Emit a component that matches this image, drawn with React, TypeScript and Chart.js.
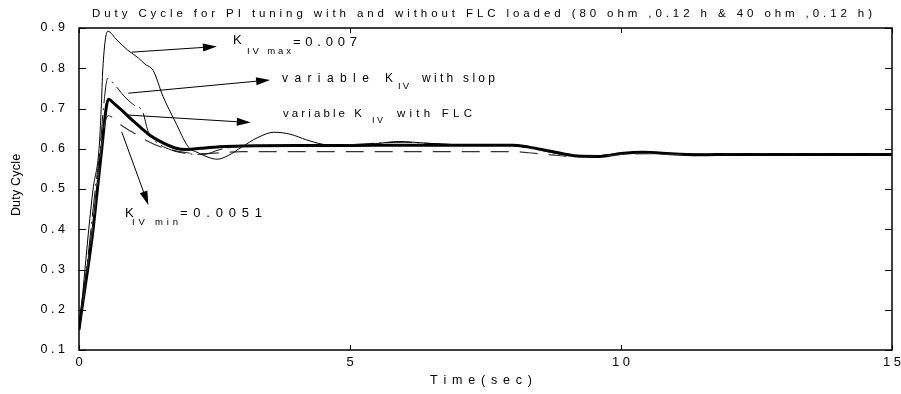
import React, { useEffect, useRef } from "react";
import { Chart, registerables } from "chart.js";

Chart.register(...registerables);

// ---- data (time in seconds, duty cycle) ----
const kmaxT = [0, 0.04, 0.11, 0.18, 0.26, 0.37, 0.41, 0.44, 0.53, 0.7, 0.9, 1.1, 1.22, 1.37, 1.55, 1.77, 2.02, 2.2, 2.4, 2.55, 2.75, 3.0, 3.3, 3.6, 3.9, 4.2, 4.5, 5.0, 5.5, 5.9, 6.4, 7.0, 8.0, 8.3, 8.7, 9.2, 9.6, 10.0, 10.4, 11.0, 12.0, 13.0, 15];
const kmaxV = [0.15, 0.2, 0.3, 0.4, 0.5, 0.6, 0.7, 0.8, 0.892, 0.87, 0.845, 0.825, 0.81, 0.794, 0.73, 0.669, 0.604, 0.59, 0.578, 0.574, 0.583, 0.604, 0.628, 0.641, 0.636, 0.622, 0.611, 0.607, 0.613, 0.618, 0.614, 0.61, 0.609, 0.605, 0.594, 0.582, 0.583, 0.589, 0.592, 0.588, 0.585, 0.586, 0.586];

const flcT = [0, 0.05, 0.16, 0.26, 0.34, 0.42, 0.5, 0.54, 0.65, 0.85, 1.0, 1.16, 1.3, 1.47, 1.77, 2.0, 2.24, 2.6, 3.0, 4.0, 5.0, 6.0, 7.0, 8.0, 8.3, 8.7, 9.2, 9.6, 10.0, 10.4, 11.0, 11.5, 12.0, 13.0, 14.0, 15];
const flcV = [0.15, 0.2, 0.3, 0.4, 0.5, 0.6, 0.7, 0.723, 0.712, 0.688, 0.669, 0.65, 0.634, 0.62, 0.602, 0.598, 0.601, 0.605, 0.607, 0.608, 0.608, 0.609, 0.609, 0.609, 0.604, 0.594, 0.582, 0.581, 0.588, 0.591, 0.587, 0.585, 0.586, 0.586, 0.586, 0.586];

const slopT = [0, 0.05, 0.14, 0.22, 0.3, 0.39, 0.45, 0.53, 0.67, 0.85, 1.0, 1.18, 1.27, 1.4, 1.7, 2.0, 2.3, 2.6, 3.0, 4.0, 5.0, 5.5, 6.0, 6.5, 7.0, 8.0, 8.3, 8.7, 9.2, 9.6, 10.0, 10.4, 11, 12, 15];
const slopV = [0.15, 0.2, 0.3, 0.4, 0.5, 0.6, 0.7, 0.775, 0.757, 0.728, 0.71, 0.69, 0.645, 0.62, 0.597, 0.588, 0.586, 0.598, 0.606, 0.607, 0.61, 0.614, 0.616, 0.613, 0.61, 0.608, 0.602, 0.591, 0.581, 0.583, 0.588, 0.591, 0.587, 0.586, 0.586];

const kminT = [0, 0.05, 0.15, 0.25, 0.33, 0.41, 0.48, 0.54, 0.65, 0.76, 0.9, 1.0, 1.25, 1.5, 1.7, 2.0, 2.3, 2.6, 3.0, 4, 5, 6, 7, 8.0, 8.3, 8.7, 9.2, 9.6, 10.0, 10.5, 11, 12, 15];
const kminV = [0.15, 0.2, 0.3, 0.4, 0.5, 0.6, 0.665, 0.682, 0.675, 0.661, 0.648, 0.64, 0.62, 0.605, 0.597, 0.59, 0.588, 0.59, 0.593, 0.593, 0.593, 0.593, 0.593, 0.593, 0.59, 0.585, 0.58, 0.582, 0.586, 0.588, 0.586, 0.586, 0.586];

const xTicks = [0, 5, 10, 15];
const yTicks = [0.1, 0.2, 0.3, 0.4, 0.5, 0.6, 0.7, 0.8, 0.9];
const xTickLabels = ["0", "5", "10", "15"];
const yTickLabels = ["0.1", "0.2", "0.3", "0.4", "0.5", "0.6", "0.7", "0.8", "0.9"];

const titleText = "Duty Cycle for PI tuning with and without FLC loaded (80 ohm ,0.12 h & 40 ohm ,0.12 h)";
const xTitle = "Time(sec)";
const yTitle = "Duty Cycle";

// annotation arrows in data coordinates: [t0, v0, t1, v1]
const arrows = [
  [0.974, 0.84, 2.545, 0.854],
  [0.91, 0.738, 3.526, 0.771],
  [0.88, 0.684, 3.17, 0.665],
  [0.788, 0.642, 1.28, 0.46],
];
// annotation texts: text, tLeft, tRight, v(center), font size
const notes: [string, number, number, number, number][] = [
  ["K", 2.841, 0, 0.868, 13],
  ["IV max", 3.1, 3.911, 0.843, 9.5],
  ["=0.007", 3.948, 5.129, 0.863, 13],
  ["variable K", 3.745, 5.793, 0.773, 12],
  ["IV", 5.886, 6.089, 0.756, 9.5],
  ["with slop", 6.328, 7.675, 0.773, 12],
  ["variable K", 3.764, 5.221, 0.686, 11.5],
  ["IV", 5.406, 5.609, 0.669, 9],
  ["with FLC", 5.867, 7.251, 0.686, 11.5],
  ["K", 0.849, 0, 0.44, 13],
  ["IV min", 0.978, 1.827, 0.418, 9.5],
  ["=0.0051", 1.863, 3.376, 0.44, 13],
];

const FONT = '"Liberation Sans", Arial, Helvetica, sans-serif';

function toPts(ts: number[], vs: number[]) {
  return ts.map((t, i) => ({ x: t, y: vs[i] }));
}

function drawFit(ctx: CanvasRenderingContext2D, text: string, x0: number, x1: number | null, y: number, size: number, spacing?: number) {
  ctx.font = `${size}px ${FONT}`;
  ctx.textAlign = "left";
  ctx.textBaseline = "middle";
  const chars = [...text];
  const ws = chars.map((c) => ctx.measureText(c).width);
  const sum = ws.reduce((a, b) => a + b, 0);
  let sp = spacing ?? 0;
  if (x1 !== null && chars.length > 1) sp = (x1 - x0 - sum) / (chars.length - 1);
  let cx = x0;
  chars.forEach((c, i) => {
    ctx.fillText(c, cx, y);
    cx += ws[i] + sp;
  });
  return cx - sp;
}

function drawCentered(ctx: CanvasRenderingContext2D, text: string, xc: number, y: number, size: number, spacing: number, align: "center" | "right" = "center") {
  ctx.font = `${size}px ${FONT}`;
  const chars = [...text];
  const ws = chars.map((c) => ctx.measureText(c).width);
  const total = ws.reduce((a, b) => a + b, 0) + spacing * (chars.length - 1);
  const x0 = align === "center" ? xc - total / 2 : xc - total;
  drawFit(ctx, text, x0, null, y, size, spacing);
}

const overlayPlugin = {
  id: "overlay",
  afterDatasetsDraw(chart: any) {
    const ctx: CanvasRenderingContext2D = chart.ctx;
    const { left, right, top, bottom } = chart.chartArea;
    const xs = chart.scales.x;
    const ys = chart.scales.y;
    ctx.save();
    ctx.fillStyle = "#000";
    ctx.strokeStyle = "#000";

    // frame
    ctx.lineWidth = 1.5;
    ctx.strokeRect(left, top, right - left, bottom - top);

    // inward ticks
    ctx.lineWidth = 1;
    ctx.beginPath();
    yTicks.forEach((v) => {
      const py = Math.round(ys.getPixelForValue(v)) + 0.5;
      ctx.moveTo(left, py);
      ctx.lineTo(left + 7, py);
      ctx.moveTo(right, py);
      ctx.lineTo(right - 7, py);
    });
    xTicks.forEach((t) => {
      const px = Math.round(xs.getPixelForValue(t)) + 0.5;
      ctx.moveTo(px, bottom);
      ctx.lineTo(px, bottom - 5);
      ctx.moveTo(px, top);
      ctx.lineTo(px, top + 5);
    });
    ctx.stroke();

    // tick labels
    yTicks.forEach((v, i) => {
      drawCentered(ctx, yTickLabels[i], left - 14, ys.getPixelForValue(v), 12.5, 3.5, "right");
    });
    xTicks.forEach((t, i) => {
      drawCentered(ctx, xTickLabels[i], xs.getPixelForValue(t), bottom + 12, 13, 3.5);
    });

    // titles
    drawFit(ctx, titleText, 92, 872, 14, 11.5);
    drawFit(ctx, xTitle, 430, 532, 381, 12.5);
    ctx.save();
    ctx.translate(17, 185);
    ctx.rotate(-Math.PI / 2);
    drawCentered(ctx, yTitle, 0, 0, 12.5, 0.2);
    ctx.restore();

    // arrows
    arrows.forEach(([t0, v0, t1, v1]) => {
      const x0 = xs.getPixelForValue(t0);
      const y0 = ys.getPixelForValue(v0);
      const x1 = xs.getPixelForValue(t1);
      const y1 = ys.getPixelForValue(v1);
      const ang = Math.atan2(y1 - y0, x1 - x0);
      const L = 14;
      const W = 4;
      const bx = x1 - L * Math.cos(ang);
      const by = y1 - L * Math.sin(ang);
      ctx.lineWidth = 1;
      ctx.beginPath();
      ctx.moveTo(x0, y0);
      ctx.lineTo(bx, by);
      ctx.stroke();
      ctx.beginPath();
      ctx.moveTo(x1, y1);
      ctx.lineTo(bx + W * Math.sin(ang), by - W * Math.cos(ang));
      ctx.lineTo(bx - W * Math.sin(ang), by + W * Math.cos(ang));
      ctx.closePath();
      ctx.fill();
    });

    // annotation texts
    notes.forEach(([txt, t0, t1, v, size]) => {
      const x0 = xs.getPixelForValue(t0);
      const x1 = t1 ? xs.getPixelForValue(t1) : null;
      drawFit(ctx, txt, x0, x1, ys.getPixelForValue(v), size, 0);
    });

    ctx.restore();
  },
};

export default function App() {
  const ref = useRef<HTMLCanvasElement | null>(null);
  useEffect(() => {
    document.body.style.margin = "0";
    const canvas = ref.current;
    if (!canvas) return;
    const chart = new Chart(canvas, {
      type: "line",
      data: {
        datasets: [
          { label: "K_IV max", data: toPts(kmaxT, kmaxV), borderColor: "#000", borderWidth: 1, pointRadius: 0, cubicInterpolationMode: "monotone" },
          { label: "variable K_IV with slop", data: toPts(slopT, slopV), borderColor: "#111", borderWidth: 1, borderDash: [26, 5, 2, 5], pointRadius: 0, cubicInterpolationMode: "monotone" },
          { label: "K_IV min", data: toPts(kminT, kminV), borderColor: "#333", borderWidth: 1.2, borderDash: [18, 11], pointRadius: 0, cubicInterpolationMode: "monotone" },
          { label: "variable K_IV with FLC", data: toPts(flcT, flcV), borderColor: "#000", borderWidth: 3, pointRadius: 0, cubicInterpolationMode: "monotone" },
        ],
      },
      options: {
        responsive: false,
        maintainAspectRatio: false,
        animation: false,
        parsing: false as any,
        layout: { padding: { left: 79, right: 9, top: 28, bottom: 44 } },
        plugins: { legend: { display: false }, tooltip: { enabled: false }, title: { display: false } },
        scales: {
          x: { type: "linear", min: 0, max: 15, display: false },
          y: { type: "linear", min: 0.1, max: 0.9, display: false },
        },
      },
      plugins: [overlayPlugin],
    });
    return () => chart.destroy();
  }, []);
  return (
    <div style={{ width: 901, height: 394, background: "#fff" }}>
      <canvas ref={ref} width={901} height={394} style={{ display: "block" }} />
    </div>
  );
}
